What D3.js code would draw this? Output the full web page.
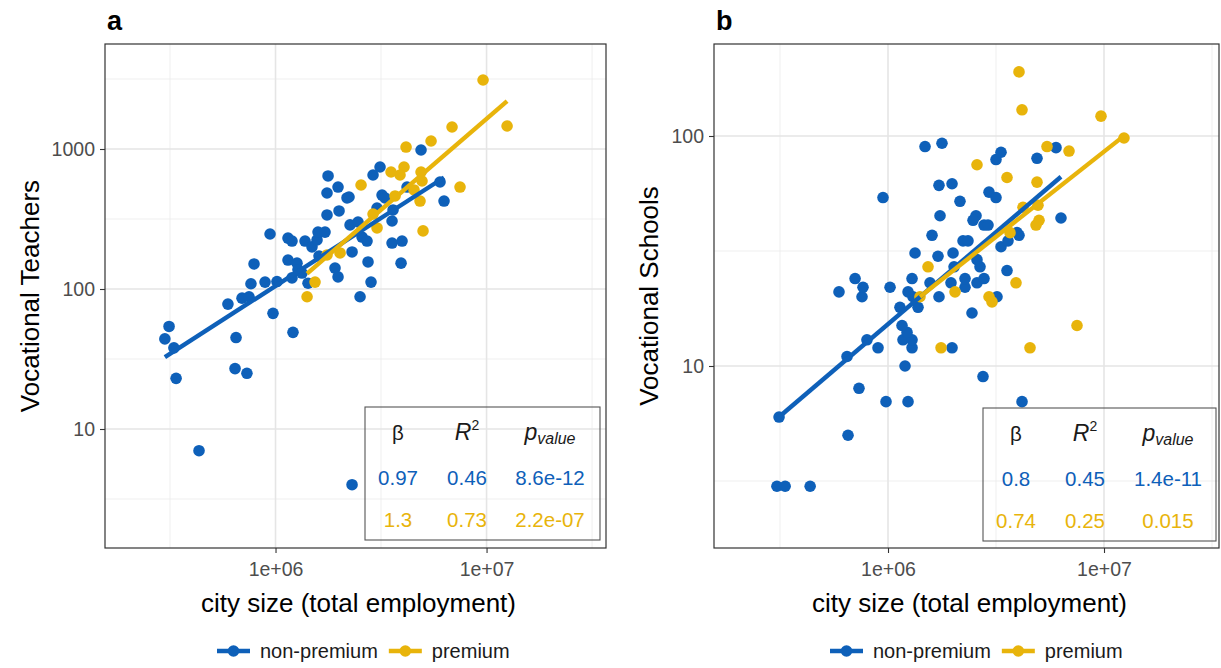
<!DOCTYPE html>
<html>
<head>
<meta charset="utf-8">
<script src="https://cdn.jsdelivr.net/npm/d3@7"></script>
<style>
  body { margin: 0; background: #ffffff; }
  svg { display: block; }
  text { font-family: "Liberation Sans", Arial, Helvetica, sans-serif; }
</style>
</head>
<body>
<svg id="chart" width="1221" height="668"></svg>
<script>
// ---- data ---------------------------------------------------------------
const groups = ["non-premium", "premium"];
const groupColors = ["#0E60B9", "#E8B40B"];

const xTicks = [1e6, 1e7];
const xTickLabels = ["1e+06", "1e+07"];
const xTitle = "city size (total employment)";

// Panel a: vocational teachers vs city size
const teachersNonPremiumSize = [299000, 313000, 330000, 338000, 434000, 595000, 650000, 643000, 732000, 694000,
  749000, 973000, 1210000, 2305000, 765000, 791000, 892000, 942000, 1016000, 1146000,
  1197000, 1146000, 1197000, 1264000, 1278000, 1335000, 1380000, 1489000, 1573000, 1590000,
  1716000, 1608000, 1426000, 1754000, 1754000, 1774000, 1978000, 2000000, 2182000, 2230000,
  2255000, 2460000, 2305000, 2570000, 2714000, 1914000, 1978000, 2515000, 2744000, 2835000,
  2898000, 3128000, 3197000, 3304000, 3027000, 3605000, 3566000, 3566000, 3977000, 3934000,
  4200000, 4893000, 6019000, 6288000];
const teachersNonPremiumCount = [44, 54, 38, 23, 7, 78, 45, 27, 25, 86,
  88, 67, 49, 4, 109, 151, 112, 247, 113, 231,
  220, 161, 120, 153, 137, 130, 220, 200, 224, 255,
  255, 172, 110, 338, 485, 642, 535, 361, 447, 454,
  287, 301, 184, 235, 220, 141, 122, 88, 156, 112,
  652, 744, 469, 447, 379, 367, 306, 213, 220, 153,
  535, 984, 581, 425];
const teachersPremiumSize = [9625000, 12510000, 6862000, 5458000, 4155000, 4064000, 3890000, 3527000, 4893000, 4946000,
  4533000, 7487000, 4839000, 3685000, 2543000, 5001000, 3027000, 2898000, 2022000, 1539000,
  1411000, 1754000];
const teachersPremiumCount = [3111, 1460, 1436, 1141, 1033, 744, 652, 685, 685, 591,
  510, 535, 425, 462, 553, 260, 273, 343, 181, 112,
  88, 175];
const teachersTicks = [10, 100, 1000];
const teachersTickLabels = ["10", "100", "1000"];
const teachersBeta = [0.97, 1.3];
const teachersIntercept = [-3.798, -5.884];
const teachersR2 = ["0.46", "0.73"];
const teachersP = ["8.6e-12", "2.2e-07"];

// Panel b: vocational schools vs city size
const schoolsNonPremiumSize = [313000, 306000, 334000, 436000, 653000, 734000, 979000, 1238000, 646000, 799000,
  899000, 1199000, 1292000, 1173000, 1292000, 1225000, 1161000, 1136000, 1377000, 1305000,
  1238000, 1022000, 758000, 766000, 593000, 1979000, 2448000, 2753000, 3196000, 1722000,
  1565000, 2273000, 2582000, 1484000, 1778000, 948000, 1722000, 1979000, 2154000, 1741000,
  1599000, 1334000, 1704000, 2000000, 2022000, 704000, 1292000, 1957000, 2273000, 2783000,
  2225000, 2346000, 2582000, 2667000, 2555000, 2475000, 2783000, 2904000, 2935000, 3162000,
  3162000, 3336000, 3336000, 3594000, 3956000, 3556000, 4896000, 5995000, 6322000, 4173000,
  4041000];
const schoolsNonPremiumCount = [6, 3, 3, 3, 5, 8, 7, 7, 11, 13,
  12, 10, 12, 13, 13, 14, 15, 18, 18, 20,
  21, 22, 20, 22, 21, 12, 17, 9, 20, 20,
  23, 22, 23, 90, 93, 54, 61, 62, 52, 45,
  37, 31, 30, 31, 27, 24, 24, 23, 24, 24,
  35, 35, 29, 27, 45, 43, 41, 41, 57, 54,
  79, 85, 33, 35, 38, 26, 80, 89, 44, 7,
  37];
const schoolsPremiumSize = [1406000, 1532000, 1760000, 2043000, 2935000, 3030000, 2582000, 3556000, 4896000, 5447000,
  6887000, 3914000, 4217000, 4948000, 5002000, 4845000, 3671000, 7499000, 4544000, 4041000,
  4173000, 9685000, 12375000];
const schoolsPremiumCount = [20, 27, 12, 21, 20, 19, 75, 66, 63, 90,
  86, 23, 49, 50, 43, 41, 38, 15, 12, 190,
  130, 122, 98];
const schoolsTicks = [10, 100];
const schoolsTickLabels = ["10", "100"];
const schoolsBeta = [0.8, 0.74];
const schoolsIntercept = [-3.618, -3.248];
const schoolsR2 = ["0.45", "0.25"];
const schoolsP = ["1.4e-11", "0.015"];

// ---- layout -------------------------------------------------------------
const panels = [
  {
    tag: "a", yTitle: "Vocational Teachers",
    box: { left: 105, right: 606, top: 44, bottom: 548 },
    xDomain: [Math.pow(10, 5.192), Math.pow(10, 7.566)],
    yDomain: [Math.pow(10, 0.15), Math.pow(10, 3.75)],
    yTicks: teachersTicks, yTickLabels: teachersTickLabels,
    xs: [teachersNonPremiumSize, teachersPremiumSize],
    ys: [teachersNonPremiumCount, teachersPremiumCount],
    beta: teachersBeta, intercept: teachersIntercept, r2: teachersR2, p: teachersP,
    table: { x: 365, y: 407, w: 235, h: 133 },
    yTitleX: 30, legendX: 217
  },
  {
    tag: "b", yTitle: "Vocational Schools",
    box: { left: 714, right: 1219, top: 44, bottom: 548 },
    xDomain: [Math.pow(10, 5.1944), Math.pow(10, 7.5324)],
    yDomain: [Math.pow(10, 0.2087), Math.pow(10, 2.4)],
    yTicks: schoolsTicks, yTickLabels: schoolsTickLabels,
    xs: [schoolsNonPremiumSize, schoolsPremiumSize],
    ys: [schoolsNonPremiumCount, schoolsPremiumCount],
    beta: schoolsBeta, intercept: schoolsIntercept, r2: schoolsR2, p: schoolsP,
    table: { x: 983, y: 408, w: 233, h: 133 },
    yTitleX: 649, legendX: 830
  }
];

const svg = d3.select("#chart");
const tickFont = 19.5, titleFont = 26, tableFont = 20.5;

// half-decade minor breaks within a log domain
function minorBreaks(domain) {
  const lo = Math.floor(Math.log10(domain[0])) - 1, hi = Math.ceil(Math.log10(domain[1])) + 1;
  return d3.range(lo, hi).map(k => Math.pow(10, k + 0.5))
    .filter(v => v > domain[0] && v < domain[1]);
}
function majorBreaks(domain) {
  const lo = Math.floor(Math.log10(domain[0])), hi = Math.ceil(Math.log10(domain[1]));
  return d3.range(lo, hi + 1).map(k => Math.pow(10, k))
    .filter(v => v > domain[0] && v < domain[1]);
}

panels.forEach(pn => {
  const b = pn.box;
  const x = d3.scaleLog().domain(pn.xDomain).range([b.left, b.right]);
  const y = d3.scaleLog().domain(pn.yDomain).range([b.bottom, b.top]);
  const g = svg.append("g");

  // grid
  const grid = g.append("g");
  grid.selectAll("line.xminor").data(minorBreaks(pn.xDomain)).join("line")
    .attr("x1", d => x(d)).attr("x2", d => x(d)).attr("y1", b.top).attr("y2", b.bottom)
    .attr("stroke", "#EBEBEB").attr("stroke-width", 0.8);
  grid.selectAll("line.yminor").data(minorBreaks(pn.yDomain)).join("line")
    .attr("y1", d => y(d)).attr("y2", d => y(d)).attr("x1", b.left).attr("x2", b.right)
    .attr("stroke", "#EBEBEB").attr("stroke-width", 0.8);
  grid.selectAll("line.xmajor").data(majorBreaks(pn.xDomain)).join("line")
    .attr("x1", d => x(d)).attr("x2", d => x(d)).attr("y1", b.top).attr("y2", b.bottom)
    .attr("stroke", "#E5E5E5").attr("stroke-width", 1.6);
  grid.selectAll("line.ymajor").data(majorBreaks(pn.yDomain)).join("line")
    .attr("y1", d => y(d)).attr("y2", d => y(d)).attr("x1", b.left).attr("x2", b.right)
    .attr("stroke", "#E5E5E5").attr("stroke-width", 1.6);

  // points
  [0, 1].forEach(s => {
    const pts = pn.xs[s].map((v, i) => [v, pn.ys[s][i]]);
    g.append("g").selectAll("circle").data(pts).join("circle")
      .attr("cx", d => x(d[0])).attr("cy", d => y(d[1])).attr("r", 5.8)
      .attr("fill", groupColors[s]);
  });

  // power-law fits: log10(y) = intercept + beta * log10(x)
  [0, 1].forEach(s => {
    const ext = d3.extent(pn.xs[s]);
    const fit = ext.map(v => [v, Math.pow(10, pn.intercept[s] + pn.beta[s] * Math.log10(v))]);
    g.append("path").datum(fit)
      .attr("d", d3.line().x(d => x(d[0])).y(d => y(d[1])))
      .attr("fill", "none").attr("stroke", groupColors[s]).attr("stroke-width", 4.4);
  });

  // statistics table
  const t = pn.table;
  const tg = g.append("g").attr("transform", `translate(${t.x},${t.y})`);
  tg.append("rect").attr("width", t.w).attr("height", t.h)
    .attr("fill", "none").attr("stroke", "#555555").attr("stroke-width", 1.1);
  const cols = [33, 102, 185], rows = [26, 71, 113];
  const hdr = tg.append("g").attr("fill", "#1a1a1a").attr("font-size", tableFont).attr("text-anchor", "middle");
  hdr.append("text").attr("x", cols[0]).attr("y", rows[0]).attr("dy", "0.35em").text("β");
  const r2 = hdr.append("text").attr("x", cols[1]).attr("y", rows[0]).attr("dy", "0.35em");
  r2.append("tspan").attr("font-style", "italic").attr("font-size", 23).text("R");
  r2.append("tspan").attr("font-size", 14).attr("dy", "-0.75em").text("2");
  const pv = hdr.append("text").attr("x", cols[2]).attr("y", rows[0]).attr("dy", "0.35em");
  pv.append("tspan").attr("font-style", "italic").attr("font-size", 23).text("p");
  pv.append("tspan").attr("font-style", "italic").attr("font-size", 16).attr("dy", "0.25em").text("value");
  [0, 1].forEach(s => {
    const vals = [String(pn.beta[s]), pn.r2[s], pn.p[s]];
    tg.append("g").attr("fill", groupColors[s]).attr("font-size", tableFont).attr("text-anchor", "middle")
      .selectAll("text").data(vals).join("text")
      .attr("x", (d, i) => cols[i]).attr("y", rows[s + 1]).attr("dy", "0.35em").text(d => d);
  });

  // panel border
  g.append("rect").attr("x", b.left).attr("y", b.top)
    .attr("width", b.right - b.left).attr("height", b.bottom - b.top)
    .attr("fill", "none").attr("stroke", "#333333").attr("stroke-width", 1.2);

  // axes
  const xa = g.append("g").attr("transform", `translate(0,${b.bottom})`)
    .call(d3.axisBottom(x).tickValues(xTicks).tickFormat((d, i) => xTickLabels[i])
      .tickSize(5).tickPadding(9).tickSizeOuter(0));
  const ya = g.append("g").attr("transform", `translate(${b.left},0)`)
    .call(d3.axisLeft(y).tickValues(pn.yTicks).tickFormat((d, i) => pn.yTickLabels[i])
      .tickSize(5).tickPadding(5).tickSizeOuter(0));
  [xa, ya].forEach(a => {
    a.select(".domain").remove();
    a.selectAll(".tick line").attr("stroke", "#333333").attr("stroke-width", 1.1);
    a.selectAll(".tick text").attr("fill", "#4D4D4D").attr("font-size", tickFont)
      .attr("font-family", "Liberation Sans, Arial, Helvetica, sans-serif");
  });

  // titles
  g.append("text").attr("x", (b.left + b.right) / 2 + 3).attr("y", 612)
    .attr("text-anchor", "middle").attr("font-size", titleFont).attr("fill", "#000").text(xTitle);
  g.append("text").attr("transform", `translate(${pn.yTitleX},${(b.top + b.bottom) / 2}) rotate(-90)`)
    .attr("text-anchor", "middle").attr("dy", "0.35em")
    .attr("font-size", titleFont).attr("fill", "#000").text(pn.yTitle);
  g.append("text").attr("x", b.left + 2).attr("y", 30)
    .attr("font-size", 27).attr("font-weight", "bold").attr("fill", "#000").text(pn.tag);

  // legend
  const lg = g.append("g").attr("transform", `translate(${pn.legendX},651)`);
  let cx = 0;
  groups.forEach((name, s) => {
    const k = lg.append("g").attr("transform", `translate(${cx},0)`);
    k.append("line").attr("x1", 0).attr("x2", 33).attr("stroke", groupColors[s]).attr("stroke-width", 4.4);
    k.append("circle").attr("cx", 16.5).attr("r", 5.8).attr("fill", groupColors[s]);
    const lab = k.append("text").attr("x", 43).attr("dy", "0.35em").attr("font-size", 20)
      .attr("fill", "#1a1a1a").text(name);
    cx += 43 + lab.node().getComputedTextLength() + 11;
  });
});
</script>
</body>
</html>
